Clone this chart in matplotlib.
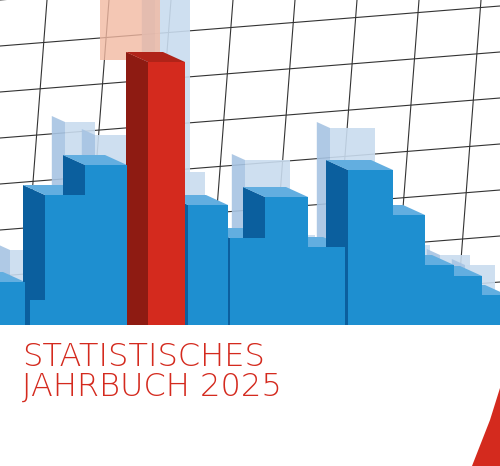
import numpy as np
import matplotlib.pyplot as plt
from matplotlib.patches import Polygon

# front row bars: left edge, width, top (pixel space of the cover image)
bar_left = [-10, 30, 45, 85, 148, 188, 230, 265, 308, 348, 390, 422, 452, 482]
bar_width = [35, 40, 40, 42, 37, 40, 36, 43, 37, 45, 35, 32, 30, 25]
bar_top = [282, 300, 195, 165, 62, 205, 238, 197, 247, 170, 215, 265, 276, 295]
bar_color = ['b'] * 4 + ['r'] + ['b'] * 9

# ghost bars behind (lighter): left, width, top
ghost_left = [10, 65, 95, 180, 155, 245, 285, 330, 340, 400, 440, 465]
ghost_width = [25, 30, 40, 25, 35, 45, 30, 45, 40, 30, 30, 30]
ghost_top = [250, 122, 135, 172, -10, 160, 235, 128, 220, 245, 255, 265]

BASE = 325
DX, DY = -22, -10  # depth offset of the side face

fig = plt.figure(figsize=(5, 4.66), dpi=100)
ax = fig.add_axes([0, 0, 1, 1])
ax.set_xlim(0, 500)
ax.set_ylim(466, 0)
ax.axis('off')

# perspective grid
for y0 in np.arange(-20, 330, 46):
    ax.plot([0, 500], [y0 + 20, y0 - 20], color='#333333', lw=0.8, zorder=1)
for x0 in np.arange(-40, 560, 62):
    ax.plot([x0, x0 + 25], [BASE, 0], color='#333333', lw=0.8, zorder=1)

# ghost bars
for l, w, t in zip(ghost_left, ghost_width, ghost_top):
    ax.add_patch(Polygon([[l, t], [l + w, t], [l + w, BASE], [l, BASE]],
                         closed=True, fc='#c9dcef', ec='none', alpha=0.9, zorder=2))
    ax.add_patch(Polygon([[l + DX * 0.6, t + DY * 0.6], [l, t], [l, BASE],
                          [l + DX * 0.6, BASE]],
                         closed=True, fc='#a7c4e3', ec='none', alpha=0.9, zorder=2))
ax.add_patch(Polygon([[100, -10], [160, -10], [160, 60], [100, 60]], closed=True,
                     fc='#f2b9a2', ec='none', alpha=0.8, zorder=2))

# front bars
for l, w, t, c in zip(bar_left, bar_width, bar_top, bar_color):
    front = '#1e8fd0' if c == 'b' else '#d42a1e'
    side = '#0b5f9e' if c == 'b' else '#8e1b12'
    topc = '#62aee0' if c == 'b' else '#b02318'
    ax.add_patch(Polygon([[l + DX, t + DY], [l, t], [l, BASE], [l + DX, BASE]],
                         closed=True, fc=side, ec='none', zorder=3))
    ax.add_patch(Polygon([[l + DX, t + DY], [l + w + DX, t + DY], [l + w, t], [l, t]],
                         closed=True, fc=topc, ec='none', zorder=3))
    ax.add_patch(Polygon([[l, t], [l + w, t], [l + w, BASE], [l, BASE]],
                         closed=True, fc=front, ec='none', zorder=4))

# white lower part
ax.add_patch(Polygon([[0, BASE], [500, BASE], [500, 466], [0, 466]],
                     closed=True, fc='white', ec='none', zorder=5))

ax.text(22, 366, 'STATISTISCHES', color='#d42a1e', fontsize=23,
        family='DejaVu Sans', fontweight='light', va='baseline', zorder=6)
ax.text(22, 396, 'JAHRBUCH 2025', color='#d42a1e', fontsize=23,
        family='DejaVu Sans', fontweight='light', va='baseline', zorder=6)

# red swoosh bottom right
ax.add_patch(Polygon([[472, 466], [490, 420], [500, 388], [500, 466]],
                     closed=True, fc='#d42a1e', ec='none', zorder=6))

fig.savefig('out.png', dpi=100)
